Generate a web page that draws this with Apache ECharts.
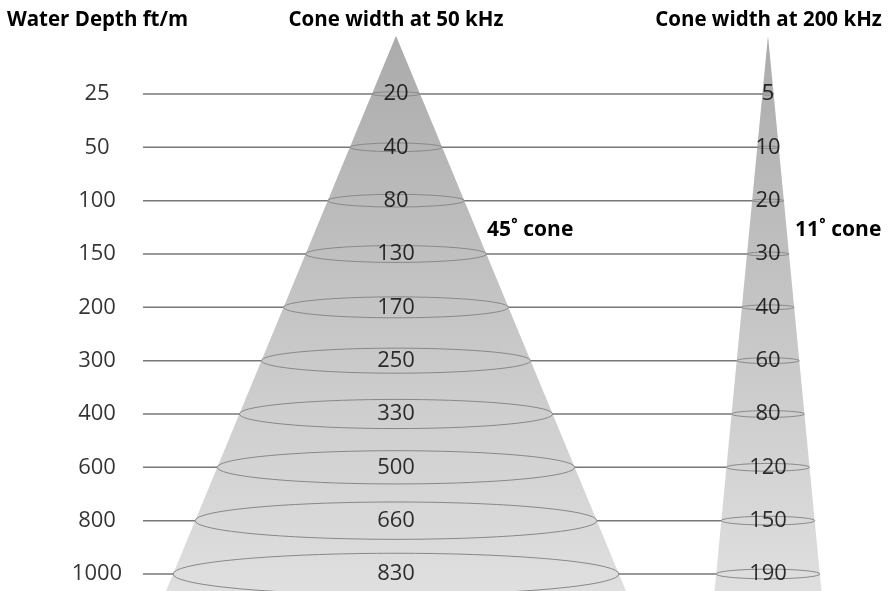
<!DOCTYPE html>
<html><head><meta charset="utf-8">
<script src="https://cdn.jsdelivr.net/npm/echarts@6/dist/echarts.min.js"></script>
<style>html,body{margin:0;padding:0;background:#fff}#c{width:893px;height:591px}</style>
</head><body><div id="c"></div>
<script>
// ---- data ----
const depths = ['25','50','100','150','200','300','400','600','800','1000'];
const width50 = [20,40,80,130,170,250,330,500,660,830];
const width200 = [5,10,20,30,40,60,80,120,150,190];
const coneAngles = [45, 11];
const coneNames = ['45˚ cone', '11˚ cone'];
const headers = ['Water Depth ft/m', 'Cone width at 50 kHz', 'Cone width at 200 kHz'];

// ---- layout (pixel-ish axis units) ----
const X_MAX = 893;
const Y_MIN = -1.7625, Y_MAX = 9.319;   // row units
const APEX_ROW = -1.09;
const coneX = [396, 768];
const labelX = 97;
const lineStartX = 143;
const FONT = '"Open Sans", "Noto Sans", sans-serif';

const rows = depths.map((d, i) => i);

function halfWidth(api, cx, row, angle) {
  const apex = api.coord([cx, APEX_ROW]);
  const p = api.coord([cx, row]);
  return (p[1] - apex[1]) * Math.tan(angle / 2 * Math.PI / 180);
}

const chart = echarts.init(document.getElementById('c'), null, {renderer: 'canvas'});

const series = [];

// horizontal guide lines
series.push({
  type: 'custom', z: 1, silent: true,
  data: rows.map(r => [lineStartX, r, coneX[1]]),
  renderItem: (params, api) => {
    const a = api.coord([api.value(0), api.value(1)]);
    const b = api.coord([api.value(2), api.value(1)]);
    return {type: 'line', shape: {x1: a[0], y1: a[1], x2: b[0], y2: b[1]},
      style: {stroke: '#777777', lineWidth: 1.5}};
  }
});

// cones
series.push({
  type: 'custom', z: 2, silent: true,
  data: coneX.map((cx, i) => [cx, coneAngles[i]]),
  renderItem: (params, api) => {
    const cx = api.value(0), ang = api.value(1);
    const apex = api.coord([cx, APEX_ROW]);
    const bot = api.coord([cx, Y_MAX]);
    const hw = (bot[1] - apex[1]) * Math.tan(ang / 2 * Math.PI / 180);
    return {type: 'polygon',
      shape: {points: [[apex[0], apex[1]], [bot[0] + hw, bot[1]], [bot[0] - hw, bot[1]]]},
      style: {fill: new echarts.graphic.LinearGradient(0, 0, 0, 1, [
        {offset: 0, color: '#ababab'}, {offset: 1, color: '#dfdfdf'}])}};
  }
});

// ellipses
const ellData = [];
coneX.forEach((cx, i) => rows.forEach(r => ellData.push([cx, r, coneAngles[i]])));
series.push({
  type: 'custom', z: 3, silent: true,
  data: ellData,
  renderItem: (params, api) => {
    const cx = api.value(0), r = api.value(1), ang = api.value(2);
    const c = api.coord([cx, r]);
    const rx = halfWidth(api, cx, r, ang);
    const ry = Math.max(rx * 0.093, 1.2);
    const pts = [];
    for (let k = 0; k < 72; k++) {
      const t = k / 72 * Math.PI * 2;
      pts.push([c[0] + rx * Math.cos(t), c[1] + ry * Math.sin(t)]);
    }
    return {type: 'polygon', shape: {points: pts},
      style: {fill: 'rgba(0,0,0,0)', stroke: '#888888', lineWidth: 1}};
  }
});

// value labels
function labelSeries(xs, texts, z) {
  return {
    type: 'scatter', z: z, silent: true, symbolSize: 0,
    data: texts.map((t, i) => ({value: [xs, i], name: String(t)})),
    label: {show: true, position: 'inside', formatter: p => p.name,
      color: '#000000', fontFamily: FONT, fontSize: 22}
  };
}
series.push(labelSeries(labelX, depths, 5));
series.push(labelSeries(coneX[0], width50, 5));
series.push(labelSeries(coneX[1], width200, 5));

const HFONT = 'bold 20.5px ' + FONT;
const option = {
  animation: false,
  backgroundColor: '#ffffff',
  grid: {left: 0, right: 0, top: 0, bottom: 0},
  xAxis: {type: 'value', min: 0, max: X_MAX, show: false},
  yAxis: {type: 'value', min: Y_MIN, max: Y_MAX, inverse: true, show: false},
  graphic: [
    {type: 'text', x: 97.5, y: 20, style: {text: headers[0], font: HFONT, fill: '#000', textAlign: 'center', textVerticalAlign: 'middle'}},
    {type: 'text', x: coneX[0], y: 20, style: {text: headers[1], font: HFONT, fill: '#000', textAlign: 'center', textVerticalAlign: 'middle'}},
    {type: 'text', x: 768.5, y: 20, style: {text: headers[2], font: HFONT, fill: '#000', textAlign: 'center', textVerticalAlign: 'middle'}},
    {type: 'text', x: 487, y: 230, style: {text: coneNames[0], font: 'bold 21px ' + FONT, fill: '#000', textVerticalAlign: 'middle'}},
    {type: 'text', x: 795, y: 230, style: {text: coneNames[1], font: 'bold 21px ' + FONT, fill: '#000', textVerticalAlign: 'middle'}}
  ],
  series: series
};
chart.setOption(option);
</script>
</body></html>
